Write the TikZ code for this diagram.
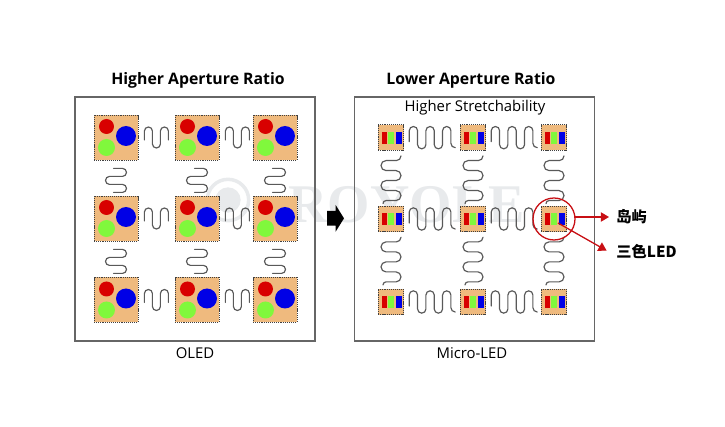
\documentclass[tikz,border=0pt]{standalone}
\usepackage{fontspec}
\setmainfont{Open Sans}
\newfontfamily\cjk{Noto Sans CJK SC}
\newfontfamily\markfont{Liberation Serif}
\usetikzlibrary{arrows.meta}
\definecolor{padorange}{HTML}{EFBA7E}
\definecolor{ledred}{HTML}{D80000}
\definecolor{ledblue}{HTML}{0000E6}
\definecolor{ledgreen}{HTML}{80F83C}
\definecolor{callred}{HTML}{C80F14}
\definecolor{framegray}{HTML}{666666}
\definecolor{markgray}{HTML}{E8EAEC}
\tikzset{
  frame/.style={draw=framegray,line width=0.9pt,minimum width=7.2cm,minimum height=7.32cm},
  oledpad/.style={draw=black!75,dash pattern=on 1pt off 0.8pt,line width=0.7pt,fill=padorange,minimum width=1.32cm,minimum height=1.35cm},
  ledpad/.style={draw=black!75,dash pattern=on 1pt off 0.8pt,line width=0.7pt,fill=padorange,minimum width=0.77cm,minimum height=0.77cm},
  wire/.style={draw=black!65,line width=1pt,line cap=round},
  dot/.style={circle,inner sep=0pt,minimum size=#1*0.06cm},
  bar/.style={inner sep=0pt,minimum width=0.16cm,minimum height=0.36cm},
  callout/.style={callred,line width=1.1pt,-{Triangle[length=7pt,width=8pt]}},
  title/.style={font=\bfseries\fontsize{13.5}{16}\selectfont},
  caption/.style={font=\fontsize{12.7}{15}\selectfont},
}
% springs, every one starts from the pad it leaves
\newcommand{\oledspringh}[1]{\draw[wire] ([shift={(0.18,-0.075)}]#1.east) -- ++(0,0.27) arc[start angle=180,end angle=0,radius=0.12] -- ++(0,-0.39) arc[start angle=180,end angle=360,radius=0.12] -- ++(0,0.39) arc[start angle=180,end angle=0,radius=0.12] -- ++(0,-0.27);}
\newcommand{\oledspringv}[1]{\draw[wire] ([shift={(-0.075,-0.24)}]#1.south) -- ++(0.27,0) arc[start angle=90,end angle=-90,radius=0.12] -- ++(-0.39,0) arc[start angle=90,end angle=270,radius=0.12] -- ++(0.39,0) arc[start angle=90,end angle=-90,radius=0.12] -- ++(-0.27,0);}
\newcommand{\ledspringh}[1]{\draw[wire] ([shift={(0.15,-0.12)}]#1.east) -- ++(0,0.33) arc[start angle=180,end angle=0,radius=0.125] -- ++(0,-0.42) arc[start angle=180,end angle=360,radius=0.125] -- ++(0,0.42) arc[start angle=180,end angle=0,radius=0.125] -- ++(0,-0.42) arc[start angle=180,end angle=360,radius=0.125] -- ++(0,0.42) arc[start angle=180,end angle=0,radius=0.125] -- ++(0,-0.38) arc[start angle=180,end angle=270,radius=0.13];}
\newcommand{\ledspringv}[1]{\draw[wire] ([shift={(0.3,-0.15)}]#1.south) arc[start angle=0,end angle=-90,radius=0.14] -- ++(-0.31,0) arc[start angle=90,end angle=270,radius=0.15] -- ++(0.3,0) arc[start angle=90,end angle=-90,radius=0.15] -- ++(-0.3,0) arc[start angle=90,end angle=270,radius=0.15] -- ++(0.3,0) arc[start angle=90,end angle=-90,radius=0.15] -- ++(-0.3,0) arc[start angle=90,end angle=180,radius=0.09];}
\begin{document}
\begin{tikzpicture}
  \useasboundingbox (0,0) rectangle (21.75,12.81);
  % watermark
  \draw[markgray,line width=3pt] (6.84,6.81) circle (0.62);
  \fill[markgray] (6.84,6.81) circle (0.38);
  \node[font=\markfont\bfseries\fontsize{46.5}{46.5}\selectfont,markgray] (mark) at (12.2,6.66) {ROYOLE};
  % titles and frames
  \node[title] (lefttitle) at (5.94,10.41) {Higher Aperture Ratio};
  \node[title] (righttitle) at (14.13,10.41) {Lower Aperture Ratio};
  \node[frame] (leftframe) at (5.85,6.24) {};
  \node[frame] (rightframe) at (14.235,6.24) {};
  \node[caption] (oledcap) at (5.85,2.22) {OLED};
  \node[caption] (microcap) at (14.16,2.22) {Micro-LED};
  \node[caption] (stretch) at (14.25,9.57) {Higher Stretchability};
  % OLED pads
  \foreach \col/\x in {1/3.48,2/5.91,3/8.25}
    \foreach \row/\y in {1/8.685,2/6.255,3/3.81} {
      \node[oledpad] (p\col\row) at (\x,\y) {};
      \node[dot=7.5,fill=ledred] (pr\col\row) at (\x-0.285,\y+0.33) {};
      \node[dot=10,fill=ledblue] (pb\col\row) at (\x+0.3,\y+0.045) {};
      \node[dot=8.5,fill=ledgreen] (pg\col\row) at (\x-0.285,\y-0.3) {};
    }
  \foreach \row in {1,2,3} {
    \oledspringh{p1\row}
    \oledspringh{p2\row}
  }
  \foreach \col in {1,2,3} {
    \oledspringv{p\col1}
    \oledspringv{p\col2}
  }
  % LED pads
  \foreach \col/\x in {1/11.73,2/14.19,3/16.62}
    \foreach \row/\y in {1/8.68,2/6.24,3/3.75} {
      \node[ledpad] (m\col\row) at (\x,\y) {};
      \node[bar,fill=ledred] (mr\col\row) at (\x-0.2,\y) {};
      \node[bar,fill=ledgreen] (mg\col\row) at (\x,\y) {};
      \node[bar,fill=ledblue] (mb\col\row) at (\x+0.24,\y) {};
    }
  \foreach \row in {1,2,3} {
    \ledspringh{m1\row}
    \ledspringh{m2\row}
  }
  \foreach \col in {1,2,3} {
    \ledspringv{m\col1}
    \ledspringv{m\col2}
  }
  % big arrow between the frames
  \fill[black] (9.81,6.48) -- (10.07,6.48) -- (10.07,6.66) -- (10.32,6.26) -- (10.07,5.86) -- (10.07,6.04) -- (9.81,6.04) -- cycle;
  % callouts
  \draw[callred,line width=1.1pt] (m32) circle (0.63);
  \coordinate (islandfrom) at (17.25,6.3);
  \coordinate (islandtip) at (18.27,6.3);
  \coordinate (ledfrom) at (16.74,6.12);
  \coordinate (ledtip) at (18.2,5.29);
  \draw[callout] (islandfrom) -- (islandtip);
  \draw[callout] (ledfrom) -- (ledtip);
  \node[font=\cjk\bfseries\fontsize{13}{15}\selectfont,anchor=west] (island) at (18.37,6.3) {岛屿};
  \node[font=\cjk\bfseries\fontsize{13}{15}\selectfont,anchor=west] (tricolor) at (18.37,5.27) {三色LED};
\end{tikzpicture}
\end{document}
